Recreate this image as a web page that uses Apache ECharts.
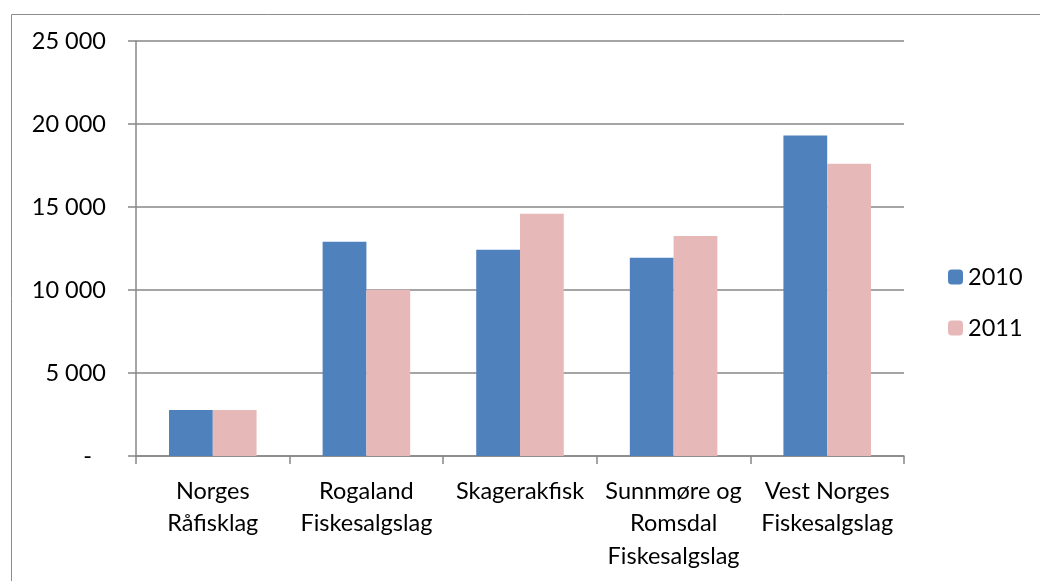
<!DOCTYPE html>
<html>
<head>
<meta charset="utf-8">
<script src="https://cdn.jsdelivr.net/npm/echarts@6/dist/echarts.min.js"></script>
<style>
html,body{margin:0;padding:0;background:#fff;}
#chart{width:1040px;height:581px;}
</style>
</head>
<body>
<div id="chart"></div>
<script>
const categories = ["Norges\nRåfisklag", "Rogaland\nFiskesalgslag", "Skagerakfisk", "Sunnmøre og\nRomsdal\nFiskesalgslag", "Vest Norges\nFiskesalgslag"];
const series2010 = [2770, 12900, 12420, 11940, 19300];
const series2011 = [2770, 10020, 14590, 13260, 17600];
const yTicks = [0, 5000, 10000, 15000, 20000, 25000];

const FONT = 'Lato';
const FS = 23.5;
const GRAY = '#878787';

const chart = echarts.init(document.getElementById('chart'), null, {renderer: 'canvas'});
chart.setOption({
  animation: false,
  backgroundColor: '#fff',
  textStyle: {fontFamily: FONT, color: '#000'},
  graphic: [{
    type: 'rect',
    left: 9, top: 12,
    shape: {width: 1100, height: 700},
    style: {fill: 'none', stroke: '#8c8c8c', lineWidth: 1},
    silent: true
  }],
  grid: {left: 136, right: 136, top: 41, bottom: 125, containLabel: false},
  legend: {
    orient: 'vertical',
    left: 948, top: 265,
    padding: 0,
    itemWidth: 15, itemHeight: 15,
    itemGap: 27,
    textStyle: {fontFamily: FONT, fontSize: FS, color: '#000'},
    data: ['2010', '2011']
  },
  xAxis: {
    type: 'category',
    data: categories,
    axisLine: {show: true, lineStyle: {color: GRAY, width: 1.5}},
    axisTick: {show: true, length: 8, lineStyle: {color: GRAY, width: 1.5}},
    axisLabel: {interval: 0, margin: 19, fontFamily: FONT, fontSize: FS, color: '#000', lineHeight: 32.5, align: 'center'}
  },
  yAxis: {
    type: 'value',
    min: yTicks[0], max: yTicks[yTicks.length - 1], interval: yTicks[1] - yTicks[0],
    axisLine: {show: true, lineStyle: {color: GRAY, width: 1.5}},
    axisTick: {show: true, length: 8, lineStyle: {color: GRAY, width: 1.5}},
    splitLine: {show: true, lineStyle: {color: GRAY, width: 1.5}},
    axisLabel: {
      margin: 30, fontFamily: FONT, fontSize: FS, color: '#000',
      formatter: function (v) {
        if (v === 0) return '{d|-}';
        return String(v).replace(/\B(?=(\d{3})+(?!\d))/g, ' ');
      },
      rich: {d: {fontFamily: FONT, fontSize: FS, color: '#000', padding: [0, 14, 0, 0]}}
    }
  },
  series: [
    {name: '2010', type: 'bar', data: series2010, barGap: '0%', barCategoryGap: '43%', itemStyle: {color: '#4F81BD'}},
    {name: '2011', type: 'bar', data: series2011, barGap: '0%', barCategoryGap: '43%', itemStyle: {color: '#E6B9B8'}}
  ]
});
</script>
</body>
</html>
